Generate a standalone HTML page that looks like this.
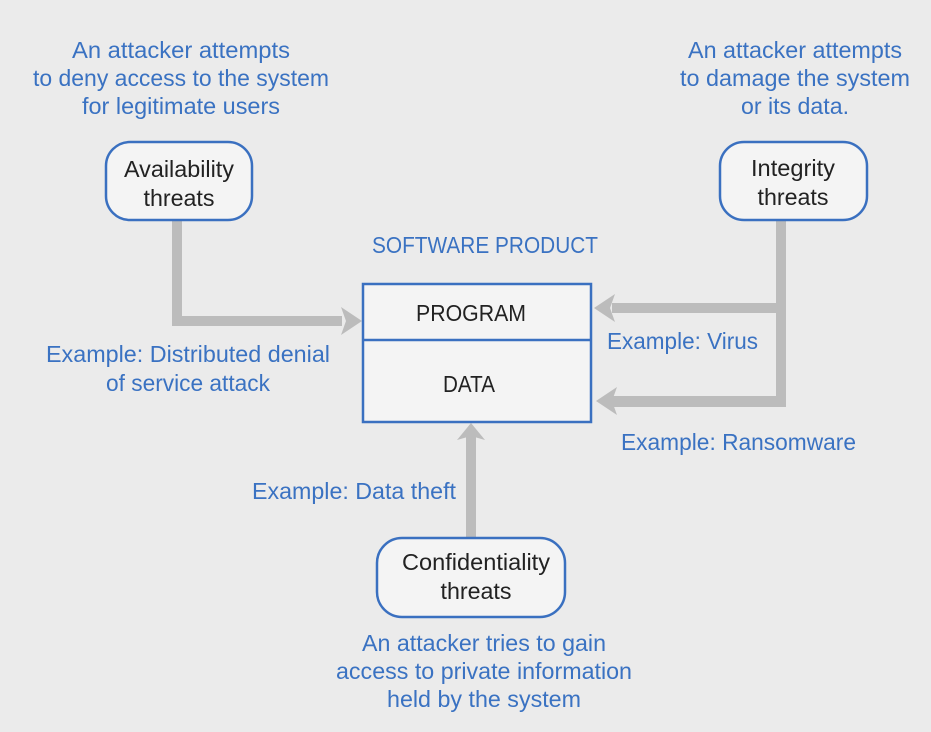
<!DOCTYPE html>
<html><head><meta charset="utf-8"><style>
html,body{margin:0;padding:0;background:#ebebeb;}
svg{display:block;}
text{font-family:"Liberation Sans",sans-serif;font-size:23px;}
.b{fill:#3a72c2;}
.k{fill:#222;}
</style></head><body>
<svg width="931" height="732" viewBox="0 0 931 732" xmlns="http://www.w3.org/2000/svg">
<rect width="931" height="732" fill="#ebebeb"/>
<g fill="#bcbcbc">
<rect x="172" y="220" width="10" height="106"/>
<rect x="172" y="316" width="170" height="10"/>
<polygon points="362,321 341,307 346,321 341,335"/>
<rect x="776" y="220" width="10" height="187"/>
<rect x="612" y="303" width="174" height="10"/>
<polygon points="594,308 615,294 610,308 615,322"/>
<rect x="612" y="396" width="174" height="11"/>
<polygon points="596,401 617,387 612,401 617,415"/>
<rect x="466" y="436" width="10" height="101"/>
<polygon points="471,423 457,440 471,436 485,440"/>
</g>
<rect x="363" y="284" width="228" height="138" fill="#f4f4f4" stroke="#3a70c0" stroke-width="2.5"/>
<line x1="363" y1="340" x2="591" y2="340" stroke="#3a70c0" stroke-width="2.5"/>
<rect x="106" y="142" width="146" height="78" rx="24" fill="#f4f4f4" stroke="#3a70c0" stroke-width="2.5"/>
<rect x="720" y="142" width="147" height="78" rx="24" fill="#f4f4f4" stroke="#3a70c0" stroke-width="2.5"/>
<rect x="377" y="538" width="188" height="79" rx="25" fill="#f4f4f4" stroke="#3a70c0" stroke-width="2.5"/>
<g text-anchor="middle" lengthAdjust="spacingAndGlyphs">
<text class="b" x="181" y="58" textLength="218" lengthAdjust="spacingAndGlyphs">An attacker attempts</text>
<text class="b" x="181" y="86" textLength="296" lengthAdjust="spacingAndGlyphs">to deny access to the system</text>
<text class="b" x="181" y="114" textLength="198" lengthAdjust="spacingAndGlyphs">for legitimate users</text>
<text class="b" x="795" y="58" textLength="214" lengthAdjust="spacingAndGlyphs">An attacker attempts</text>
<text class="b" x="795" y="86" textLength="230" lengthAdjust="spacingAndGlyphs">to damage the system</text>
<text class="b" x="795" y="114" textLength="108" lengthAdjust="spacingAndGlyphs">or its data.</text>
<text class="k" x="179" y="177" textLength="110" lengthAdjust="spacingAndGlyphs">Availability</text>
<text class="k" x="179" y="206" textLength="71" lengthAdjust="spacingAndGlyphs">threats</text>
<text class="k" x="793" y="176" textLength="84" lengthAdjust="spacingAndGlyphs">Integrity</text>
<text class="k" x="793" y="205" textLength="71" lengthAdjust="spacingAndGlyphs">threats</text>
<text class="b" x="485" y="253" textLength="226" lengthAdjust="spacingAndGlyphs">SOFTWARE PRODUCT</text>
<text class="k" x="471" y="321" textLength="110" lengthAdjust="spacingAndGlyphs">PROGRAM</text>
<text class="k" x="469" y="392" textLength="52" lengthAdjust="spacingAndGlyphs">DATA</text>
<text class="b" x="188" y="362" textLength="284" lengthAdjust="spacingAndGlyphs">Example: Distributed denial</text>
<text class="b" x="188" y="391" textLength="164" lengthAdjust="spacingAndGlyphs">of service attack</text>
<text class="k" x="476" y="570" textLength="148" lengthAdjust="spacingAndGlyphs">Confidentiality</text>
<text class="k" x="476" y="599" textLength="71" lengthAdjust="spacingAndGlyphs">threats</text>
<text class="b" x="484" y="651" textLength="244" lengthAdjust="spacingAndGlyphs">An attacker tries to gain</text>
<text class="b" x="484" y="679" textLength="296" lengthAdjust="spacingAndGlyphs">access to private information</text>
<text class="b" x="484" y="707" textLength="194" lengthAdjust="spacingAndGlyphs">held by the system</text>
</g>
<text class="b" x="607" y="349" textLength="151" lengthAdjust="spacingAndGlyphs">Example: Virus</text>
<text class="b" x="621" y="450" textLength="235" lengthAdjust="spacingAndGlyphs">Example: Ransomware</text>
<text class="b" x="252" y="499" textLength="204" lengthAdjust="spacingAndGlyphs">Example: Data theft</text>
</svg>
</body></html>
